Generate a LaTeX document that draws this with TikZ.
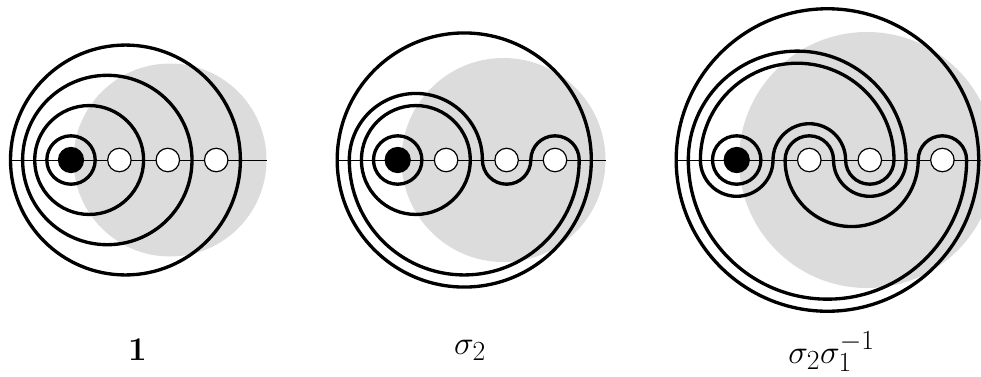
\documentclass[tikz,border=0pt]{standalone}
\definecolor{bggray}{RGB}{220,220,220}
\tikzset{
  strand/.style={line width=2.5pt},
  axisline/.style={line width=0.7pt},
  whitehole/.style={circle,draw,fill=white,line width=0.9pt,minimum size=17.6pt,inner sep=0pt},
  blackhole/.style={circle,draw,fill=black,line width=0.9pt,minimum size=18.8pt,inner sep=0pt},
  lab/.style={anchor=base,inner sep=0pt,font=\Huge}
}
\begin{document}
\begin{tikzpicture}[x=0.75pt,y=0.75pt]
\useasboundingbox (0,-216) rectangle (981,160);
\clip (0,-216) rectangle (981,160);

% ---------- diagram 1 ----------
\fill[bggray] (170,0) circle[radius=96.5];
\draw[axisline] (10.5,0) -- (266.5,0);
\draw[strand] (71,0) circle[radius=24.2];
\draw[strand] (89.15,0) circle[radius=54.45];
\draw[strand] (107.3,0) circle[radius=84.7];
\draw[strand] (125.45,0) circle[radius=114.95];
\node[blackhole] (a0) at (71,0) {};
\node[whitehole] (a1) at (119.4,0) {};
\node[whitehole] (a2) at (167.8,0) {};
\node[whitehole] (a3) at (216.2,0) {};
\node[lab] (l1) at (137.5,-200.7) {$\mathbf{1}$};

% ---------- diagram 2 ----------
\fill[bggray] (503.5,0) circle[radius=102];
\draw[axisline] (337.2,0) -- (605.5,0);
\draw[strand] (397.7,0) circle[radius=24.2];
\draw[strand] (415.85,0) circle[radius=54.45];
\draw[strand] (349.3,0) arc[start angle=180,end angle=0,radius=66.55]
  arc[start angle=180,end angle=360,radius=24.2]
  arc[start angle=180,end angle=0,radius=24.2]
  arc[start angle=0,end angle=-180,radius=114.95] -- cycle;
\draw[strand] (464.25,0) circle[radius=127.05];
\node[blackhole] (b0) at (397.7,0) {};
\node[whitehole] (b1) at (446.1,0) {};
\node[whitehole] (b2) at (506.6,0) {};
\node[whitehole] (b3) at (555.0,0) {};
\node[lab] (l2) at (470,-194.3) {$\sigma_2$};

% ---------- diagram 3 ----------
\fill[bggray] (867,0) circle[radius=128];
\draw[axisline] (676.2,0) -- (995,0);
\draw[strand] (736.7,0) circle[radius=24.2];
\draw[strand] (700.4,0) arc[start angle=180,end angle=360,radius=36.3]
  arc[start angle=180,end angle=0,radius=36.3]
  arc[start angle=180,end angle=360,radius=24.2]
  arc[start angle=0,end angle=180,radius=96.8] -- cycle;
\draw[strand] (688.3,0) arc[start angle=180,end angle=0,radius=108.9]
  arc[start angle=0,end angle=-180,radius=36.3]
  arc[start angle=0,end angle=180,radius=24.2]
  arc[start angle=180,end angle=360,radius=66.55]
  arc[start angle=180,end angle=0,radius=24.2]
  arc[start angle=0,end angle=-180,radius=139.15] -- cycle;
\draw[strand] (827.45,0) circle[radius=151.25];
\node[blackhole] (c0) at (736.7,0) {};
\node[whitehole] (c1) at (809.3,0) {};
\node[whitehole] (c2) at (869.8,0) {};
\node[whitehole] (c3) at (942.4,0) {};
\node[lab] (l3) at (831.5,-203) {$\sigma_2\sigma_1^{-1}$};
\end{tikzpicture}
\end{document}
